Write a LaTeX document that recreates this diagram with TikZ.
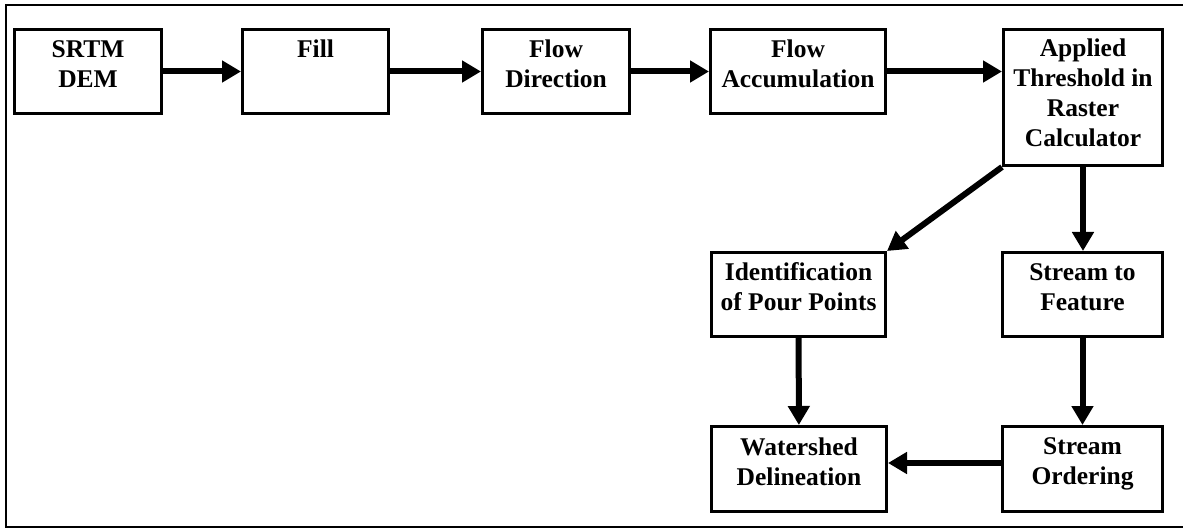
\documentclass[tikz,border=0pt]{standalone}
\usepackage{fontspec}
\setmainfont{Liberation Serif}
\usetikzlibrary{arrows.meta}

\begin{document}
\begin{tikzpicture}[x=1pt, y=-1pt,
    box/.style={draw, line width=3pt, align=center, inner sep=0pt,
        font=\bfseries\fontsize{25.5}{30}\selectfont,
        execute at begin node=\strut,
        execute at end node={\rule[-#1]{0pt}{#1}}},
    box/.default=15pt,
    flow/.style={line width=6pt, -{Triangle[length=19pt, width=21pt]}}]
    \useasboundingbox (0,0) rectangle (1183,529);
    \draw[line width=2.5pt] (1183,5) -- (6,5) -- (6,527) -- (1183,527);

    % top row
    \node[box, minimum width=147pt, minimum height=84pt] (dem) at (88,71.5) {SRTM\\DEM};
    \node[box, minimum width=146pt, minimum height=84pt] (fill) at (315.5,71.5) {Fill\\\phantom{Fill}};
    \node[box, minimum width=147pt, minimum height=84pt] (fdir) at (556,71.5) {Flow\\Direction};
    \node[box, minimum width=175pt, minimum height=84pt] (facc) at (798,71.5) {Flow\\Accumulation};
    \node[box=7pt, minimum width=159pt, minimum height=136pt] (thr) at (1083,97.5) {Applied\\Threshold in\\Raster\\Calculator};

    % lower part
    \node[box, minimum width=174pt, minimum height=84pt] (pour) at (798.5,294.5) {Identification\\of Pour Points};
    \node[box, minimum width=160pt, minimum height=84pt] (feat) at (1082.5,294.5) {Stream to\\Feature};
    \node[box, minimum width=175pt, minimum height=85pt] (wshed) at (799,469) {Watershed\\Delineation};
    \node[box, minimum width=160pt, minimum height=85pt] (order) at (1082.5,469) {Stream\\Ordering};

    \foreach \a/\b in {dem/fill, fill/fdir, fdir/facc}{ \draw[flow] (\a) -- (\b); }
    \draw[flow] (facc.east) -- (facc.east -| thr.west);
    \draw[flow] (thr.south west) -- (pour.north east);
    \draw[flow] (thr.south) -- (thr.south |- feat.north);
    \draw[flow] (pour) -- (wshed);
    \draw[flow] (feat) -- (order);
    \draw[flow] ([yshift=6pt]order.west) -- ([yshift=6pt]order.west -| wshed.east);
\end{tikzpicture}
\end{document}
